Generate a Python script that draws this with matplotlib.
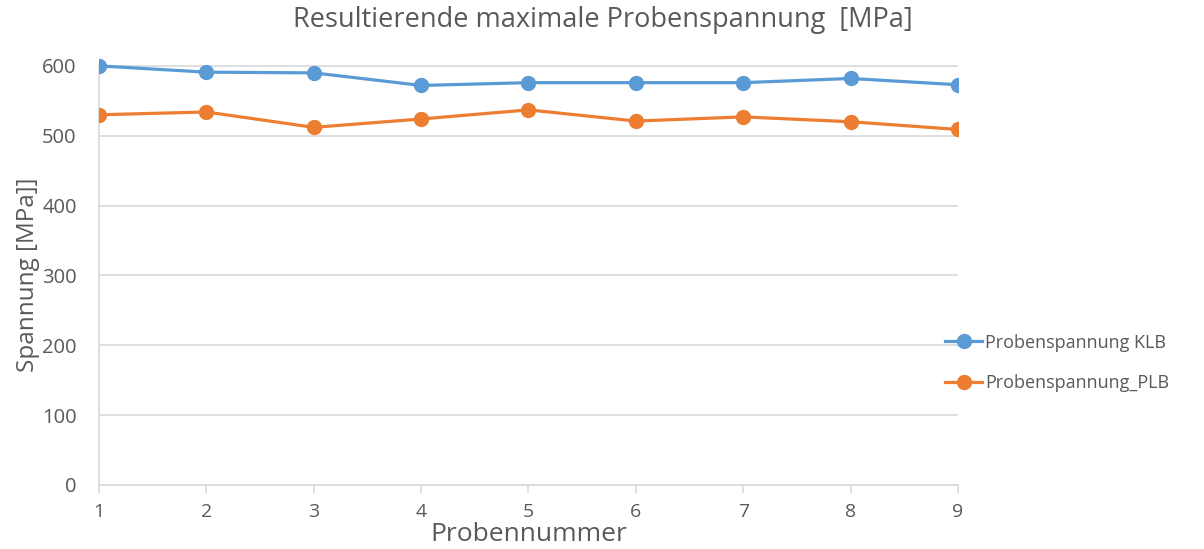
import matplotlib
matplotlib.use('Agg')
import matplotlib.pyplot as plt

proben = [1, 2, 3, 4, 5, 6, 7, 8, 9]
klb = [600, 591, 590, 572, 576, 576, 576, 582, 573]
plb = [530, 534, 512, 524, 537, 521, 527, 520, 509]
yticks = [0, 100, 200, 300, 400, 500, 600]

plt.rcParams['font.family'] = ['Open Sans', 'DejaVu Sans']
grey = '#595959'
gridc = '#d9d9d9'

fig = plt.figure(figsize=(12.04, 5.49), dpi=100)
ax = fig.add_axes([0.0822, 0.1166, 0.7135, 0.827])

ax.plot(proben, klb, color='#5B9BD5', lw=2.3, marker='o', ms=10,
        label='Probenspannung KLB', zorder=3)
ax.plot(proben, plb, color='#ED7D31', lw=2.3, marker='o', ms=10,
        label='Probenspannung_PLB', zorder=3)

ax.set_xlim(1, 9)
ax.set_ylim(0, 650)
ax.set_yticks(yticks)
ax.set_xticks(proben)
ax.grid(axis='y', color=gridc, lw=1.2)
ax.set_axisbelow(True)
for s in ['top', 'right']:
    ax.spines[s].set_visible(False)
for s in ['left', 'bottom']:
    ax.spines[s].set_color(gridc)
    ax.spines[s].set_linewidth(1.2)
ax.spines['left'].set_bounds(0, 600)
ax.tick_params(axis='x', colors=gridc, labelcolor=grey, labelsize=14, length=6, width=1.2, pad=7)
ax.tick_params(axis='y', length=0, labelcolor=grey, labelsize=14.5, pad=16)

fig.text(0.501, 0.963, 'Resultierende maximale Probenspannung  [MPa]',
         ha='center', va='center', fontsize=19.5, color=grey)
fig.text(0.4394, 0.027, 'Probennummer', ha='center', va='center',
         fontsize=19, color=grey)
fig.text(0.023, 0.50, 'Spannung [MPa]]', ha='center', va='center',
         rotation=90, fontsize=17.5, color=grey)

leg = ax.legend(loc='center left', bbox_to_anchor=(0.977, 0.269), frameon=False,
                fontsize=13, handlelength=2.0, handletextpad=0.2, labelspacing=1.25,
                borderaxespad=0)
for t in leg.get_texts():
    t.set_color(grey)

fig.savefig('out.png', dpi=100)
